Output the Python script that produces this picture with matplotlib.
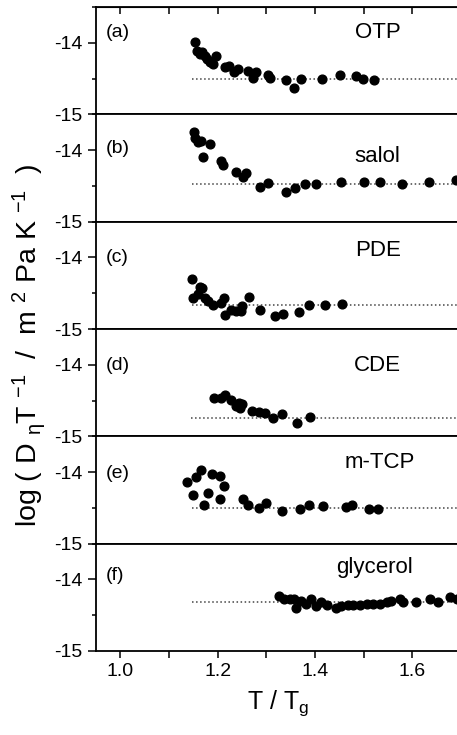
import matplotlib
matplotlib.use("Agg")
import matplotlib.pyplot as plt
from matplotlib.ticker import MultipleLocator

plt.rcParams['font.family'] = ['Liberation Sans', 'DejaVu Sans']
plt.rcParams['mathtext.default'] = 'regular'
plt.rcParams['axes.unicode_minus'] = False

# data, one list pair per panel
otp_x = [1.153, 1.157, 1.163, 1.168, 1.173, 1.178, 1.184, 1.190, 1.197, 1.215, 1.223, 1.233, 1.241,
         1.262, 1.272, 1.279, 1.303, 1.307, 1.341, 1.357, 1.371, 1.414, 1.451, 1.485, 1.499, 1.521]
otp_y = [-13.99, -14.11, -14.15, -14.13, -14.18, -14.23, -14.27, -14.29, -14.19, -14.34, -14.32, -14.41, -14.36,
         -14.39, -14.49, -14.41, -14.45, -14.49, -14.52, -14.63, -14.50, -14.51, -14.45, -14.46, -14.50, -14.52]

salol_x = [1.151, 1.154, 1.159, 1.166, 1.169, 1.184, 1.207, 1.211, 1.238, 1.253, 1.259, 1.286,
           1.303, 1.341, 1.358, 1.379, 1.403, 1.454, 1.500, 1.533, 1.579, 1.634, 1.689]
salol_y = [-13.75, -13.83, -13.89, -13.87, -14.10, -13.92, -14.15, -14.21, -14.30, -14.37, -14.32, -14.51,
           -14.46, -14.58, -14.53, -14.47, -14.47, -14.45, -14.44, -14.45, -14.47, -14.44, -14.42]

pde_x = [1.147, 1.150, 1.163, 1.168, 1.159, 1.173, 1.180, 1.190, 1.207, 1.214, 1.216, 1.228,
         1.238, 1.250, 1.248, 1.264, 1.286, 1.318, 1.335, 1.368, 1.388, 1.421, 1.455]
pde_y = [-14.30, -14.56, -14.42, -14.43, -14.51, -14.56, -14.61, -14.66, -14.64, -14.56, -14.80, -14.73,
         -14.75, -14.68, -14.75, -14.55, -14.73, -14.82, -14.79, -14.76, -14.67, -14.66, -14.65]

cde_x = [1.193, 1.206, 1.216, 1.228, 1.238, 1.245, 1.250, 1.243, 1.270, 1.285, 1.298, 1.313,
         1.332, 1.363, 1.389]
cde_y = [-14.46, -14.47, -14.42, -14.49, -14.58, -14.61, -14.55, -14.53, -14.64, -14.66, -14.68, -14.74,
         -14.69, -14.81, -14.73]

mtcp_x = [1.136, 1.156, 1.165, 1.150, 1.171, 1.180, 1.189, 1.205, 1.214, 1.205, 1.252, 1.262,
          1.285, 1.300, 1.332, 1.370, 1.388, 1.416, 1.463, 1.475, 1.511, 1.529]
mtcp_y = [-14.14, -14.07, -13.97, -14.32, -14.46, -14.29, -14.03, -14.06, -14.20, -14.37, -14.38, -14.46,
          -14.50, -14.43, -14.54, -14.51, -14.46, -14.47, -14.49, -14.46, -14.52, -14.51]

gly_x = [1.325, 1.337, 1.348, 1.356, 1.361, 1.372, 1.382, 1.392, 1.403, 1.413, 1.425, 1.444, 1.454, 1.468,
         1.478, 1.492, 1.506, 1.519, 1.533, 1.547, 1.557, 1.574, 1.581, 1.607, 1.636, 1.653, 1.677, 1.691]
gly_y = [-14.23, -14.27, -14.28, -14.27, -14.40, -14.30, -14.35, -14.28, -14.37, -14.31, -14.36, -14.40,
         -14.37, -14.36, -14.36, -14.36, -14.35, -14.35, -14.34, -14.32, -14.30, -14.28, -14.32, -14.32,
         -14.27, -14.32, -14.25, -14.28]

xs = [otp_x, salol_x, pde_x, cde_x, mtcp_x, gly_x]
ys = [otp_y, salol_y, pde_y, cde_y, mtcp_y, gly_y]
names = ['OTP', 'salol', 'PDE', 'CDE', 'm-TCP', 'glycerol']
tags = ['(a)', '(b)', '(c)', '(d)', '(e)', '(f)']
levels = [-14.50, -14.47, -14.67, -14.74, -14.50, -14.31]   # dotted reference lines
starts = [1.148, 1.148, 1.148, 1.145, 1.148, 1.148]
name_x = [1.529, 1.529, 1.529, 1.529, 1.533, 1.522]
name_y = [-13.85, -14.09, -13.90, -14.01, -13.86, -13.83]
tag_y = [-13.85, -13.98, -14.00, -14.01, -14.02, -13.95]

fig, axs = plt.subplots(6, 1, figsize=(4.57, 7.35), dpi=100, sharex=True)
fig.subplots_adjust(left=96/457, right=461/457, top=1-7/735, bottom=1-651/735, hspace=0)

for i in range(6):
    ax = axs[i]
    ax.plot([starts[i], 1.7], [levels[i], levels[i]], ':', color='#444444', lw=1.1, zorder=1)
    ax.plot(xs[i], ys[i], 'o', color='black', ms=6.3, zorder=2)
    ax.text(0.97, tag_y[i], tags[i], fontsize=14, va='center', ha='left')
    ax.text(name_x[i], name_y[i], names[i], fontsize=16, va='center', ha='center')
    ax.set_xlim(0.95, 1.7)
    ax.set_ylim(-15, -13.5)
    ax.set_yticks([-15, -14])
    ax.yaxis.set_minor_locator(MultipleLocator(0.5))
    ax.xaxis.set_major_locator(MultipleLocator(0.2))
    ax.xaxis.set_minor_locator(MultipleLocator(0.1))
    ax.tick_params(axis='y', which='major', direction='out', length=6, width=1.1, labelsize=14, right=True)
    ax.tick_params(axis='y', which='minor', direction='out', length=3, width=1.1, right=True)
    ax.tick_params(axis='x', which='both', direction='out', length=5, width=1.1, labelsize=14)
    for s in ax.spines.values():
        s.set_linewidth(1.3)

top = axs[0].secondary_xaxis('top')
top.xaxis.set_major_locator(MultipleLocator(0.1))
top.tick_params(direction='in', length=5, width=1.1, labeltop=False)

axs[-1].set_xlabel('T / T$_g$', fontsize=18, labelpad=6)
fig.text(29/457, 1-345/735, 'log ( D $_{\\eta}$T $^{-1}$  /  m $^{2}$ Pa K $^{-1}$  )',
         rotation=90, fontsize=20.5, ha='center', va='center')

fig.savefig('out.png', dpi=100)
